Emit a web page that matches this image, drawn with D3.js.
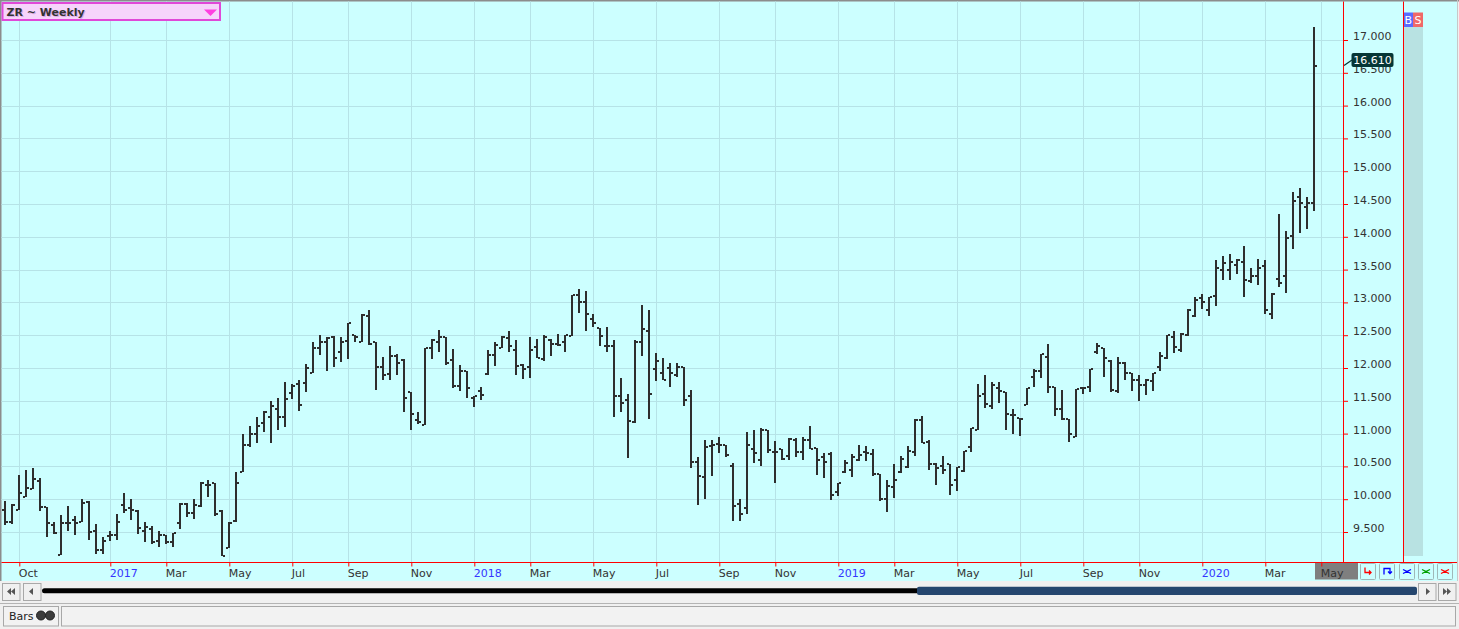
<!DOCTYPE html>
<html>
<head>
<meta charset="utf-8">
<script src="https://cdn.jsdelivr.net/npm/d3@7"></script>
<style>
  body { margin: 0; background: #f0f0f0; }
  svg { display: block; font-family: "DejaVu Sans", sans-serif; }
</style>
</head>
<body>
<script>
// weekly bars, first bar is the week ending Fri 23 Sep 2016
const firstWeek = new Date(2016, 8, 23)

const opens = [
  9.83, 9.66, 9.84, 10.03, 10.16, 10.27, 9.88, 9.61, 9.15, 9.64,
  9.68, 9.66, 9.95, 9.52, 9.23, 9.44, 9.46, 9.91, 9.87, 9.82,
  9.51, 9.54, 9.36, 9.45, 9.35, 9.64, 9.93, 9.79, 9.89, 10.22,
  10.24, 9.82, 9.26, 9.67, 10.42, 10.83, 10.99, 11.16, 11.26, 11.38,
  11.26, 11.62, 11.76, 11.77, 11.93, 12.30, 12.40, 12.48, 12.24, 12.41,
  12.50, 12.40, 12.80, 12.39, 12.01, 11.91, 12.19, 12.12, 11.64, 11.20,
  11.13, 12.30, 12.40, 12.48, 12.12, 11.72, 11.96, 11.54, 11.65, 11.91,
  12.20, 12.30, 12.46, 12.28, 12.05, 12.01, 12.32, 12.14, 12.43, 12.37,
  12.39, 12.49, 13.11, 13.01, 12.75, 12.61, 12.33, 12.34, 11.57, 11.51,
  11.18, 12.40, 12.57, 11.99, 11.93, 12.00, 11.90, 12.02, 11.58, 10.56,
  10.34, 10.81, 10.84, 10.83, 10.51, 9.93, 9.86, 10.77, 10.60, 11.05,
  10.72, 10.77, 10.66, 10.91, 10.72, 10.90, 10.78, 10.64, 10.69, 10.11,
  10.41, 10.45, 10.60, 10.72, 10.69, 10.38, 10.00, 10.18, 10.41, 10.49,
  10.72, 11.20, 10.87, 10.54, 10.50, 10.54, 10.30, 10.43, 10.79, 11.06,
  11.60, 11.42, 11.70, 11.64, 11.29, 11.24, 11.44, 11.86, 11.95, 12.17,
  11.71, 11.38, 11.23, 10.95, 11.70, 11.71, 12.24, 12.31, 12.10, 11.65,
  12.08, 11.93, 11.81, 11.74, 11.80, 12.01, 12.15, 12.48, 12.27, 12.50,
  12.79, 13.07, 12.88, 13.10, 13.49, 13.49, 13.57, 13.61, 13.32, 13.40,
  13.56, 12.82, 13.36, 13.40, 14.01, 14.61, 14.46, 14.51
]
const highs = [
  9.97, 9.93, 10.37, 10.45, 10.48, 10.33, 9.88, 9.66, 9.76, 9.89,
  9.74, 10.00, 9.97, 9.62, 9.42, 9.51, 9.77, 10.09, 10.00, 9.83,
  9.65, 9.59, 9.51, 9.46, 9.49, 9.94, 9.94, 10.00, 10.26, 10.30,
  10.25, 9.83, 9.65, 10.42, 10.99, 11.12, 11.26, 11.34, 11.50, 11.54,
  11.78, 11.75, 11.81, 12.06, 12.40, 12.50, 12.48, 12.49, 12.47, 12.68,
  12.51, 12.82, 12.89, 12.40, 12.17, 12.34, 12.21, 12.13, 11.64, 11.33,
  12.30, 12.44, 12.58, 12.48, 12.29, 12.05, 11.96, 11.57, 11.71, 12.28,
  12.39, 12.49, 12.57, 12.43, 12.06, 12.47, 12.44, 12.51, 12.44, 12.52,
  12.51, 13.12, 13.21, 13.17, 12.82, 12.61, 12.62, 12.43, 11.85, 11.60,
  12.43, 12.96, 12.88, 12.23, 12.15, 12.08, 12.08, 12.02, 11.66, 10.65,
  10.91, 10.91, 10.95, 10.83, 10.55, 10.01, 11.03, 11.05, 11.09, 11.06,
  10.89, 10.77, 10.93, 10.93, 10.95, 11.12, 10.78, 10.70, 10.72, 10.25,
  10.60, 10.69, 10.83, 10.81, 10.77, 10.39, 10.30, 10.53, 10.66, 10.81,
  11.23, 11.27, 10.91, 10.55, 10.66, 10.54, 10.49, 10.74, 11.09, 11.75,
  11.90, 11.79, 11.79, 11.64, 11.37, 11.24, 11.70, 11.98, 12.22, 12.36,
  11.71, 11.66, 11.23, 11.68, 11.71, 11.99, 12.38, 12.31, 12.12, 12.17,
  12.09, 11.93, 11.90, 11.83, 11.92, 12.24, 12.51, 12.56, 12.53, 12.90,
  13.08, 13.13, 13.08, 13.64, 13.71, 13.74, 13.66, 13.86, 13.52, 13.66,
  13.64, 13.14, 14.35, 14.09, 14.69, 14.74, 14.61, 17.20
]
const lows = [
  9.60, 9.62, 9.84, 10.03, 10.16, 9.82, 9.42, 9.47, 9.15, 9.52,
  9.46, 9.66, 9.38, 9.16, 9.16, 9.37, 9.38, 9.79, 9.69, 9.47,
  9.35, 9.31, 9.27, 9.31, 9.27, 9.55, 9.73, 9.70, 9.88, 10.04,
  9.75, 9.14, 9.26, 9.65, 10.42, 10.80, 10.86, 11.02, 10.86, 11.05,
  11.10, 11.52, 11.34, 11.63, 11.92, 12.20, 11.96, 12.01, 12.09, 12.13,
  12.40, 12.39, 12.35, 11.66, 11.81, 11.81, 11.90, 11.33, 11.06, 11.15,
  11.13, 12.14, 12.25, 12.04, 11.70, 11.65, 11.54, 11.40, 11.51, 11.89,
  12.03, 12.30, 12.25, 11.89, 11.83, 11.85, 12.15, 12.10, 12.19, 12.33,
  12.24, 12.49, 12.84, 12.57, 12.62, 12.33, 12.24, 11.26, 11.33, 10.63,
  11.16, 12.19, 11.22, 11.80, 11.82, 11.71, 11.87, 11.42, 10.48, 9.91,
  10.00, 10.35, 10.71, 10.65, 9.67, 9.67, 9.78, 10.55, 10.50, 10.71,
  10.25, 10.60, 10.60, 10.65, 10.59, 10.76, 10.37, 10.33, 9.99, 10.05,
  10.40, 10.34, 10.58, 10.58, 10.35, 9.97, 9.81, 10.02, 10.40, 10.48,
  10.66, 10.85, 10.44, 10.21, 10.39, 10.06, 10.12, 10.42, 10.72, 11.05,
  11.39, 11.38, 11.47, 11.06, 11.00, 10.96, 11.44, 11.71, 11.85, 11.62,
  11.27, 11.21, 10.87, 10.95, 11.61, 11.63, 12.21, 11.87, 11.64, 11.62,
  11.82, 11.65, 11.50, 11.59, 11.65, 11.95, 12.14, 12.23, 12.25, 12.49,
  12.78, 12.90, 12.80, 12.95, 13.34, 13.34, 13.43, 13.08, 13.29, 13.26,
  12.83, 12.75, 13.23, 13.15, 13.81, 14.06, 14.12, 14.39
]
const closes = [
  9.66, 9.91, 10.10, 10.17, 10.31, 9.88, 9.64, 9.49, 9.64, 9.64,
  9.64, 9.94, 9.50, 9.23, 9.37, 9.46, 9.66, 9.84, 9.83, 9.56,
  9.57, 9.35, 9.45, 9.35, 9.48, 9.93, 9.79, 9.91, 10.25, 10.21,
  9.78, 9.14, 9.64, 10.24, 10.83, 10.99, 11.12, 11.33, 11.42, 11.26,
  11.52, 11.73, 11.44, 12.00, 12.30, 12.40, 12.45, 12.15, 12.40, 12.68,
  12.47, 12.81, 12.37, 12.01, 11.90, 12.19, 12.08, 11.55, 11.30, 11.18,
  12.30, 12.43, 12.48, 12.08, 11.72, 11.96, 11.69, 11.57, 11.59, 12.20,
  12.35, 12.47, 12.33, 12.03, 11.99, 12.27, 12.15, 12.47, 12.37, 12.35,
  12.50, 13.11, 13.00, 12.82, 12.69, 12.49, 12.33, 11.57, 11.46, 11.19,
  12.39, 12.60, 11.61, 12.11, 11.82, 11.93, 12.02, 11.51, 10.56, 10.36,
  10.79, 10.83, 10.83, 10.67, 9.89, 9.78, 10.83, 10.70, 11.06, 10.75,
  10.72, 10.62, 10.92, 10.72, 10.91, 10.77, 10.59, 10.56, 10.06, 10.25,
  10.55, 10.64, 10.67, 10.71, 10.39, 10.01, 10.20, 10.30, 10.62, 10.73,
  11.21, 10.85, 10.54, 10.48, 10.45, 10.21, 10.49, 10.73, 11.09, 11.57,
  11.45, 11.74, 11.65, 11.30, 11.28, 11.22, 11.70, 11.95, 12.21, 11.71,
  11.38, 11.23, 10.99, 11.68, 11.70, 11.99, 12.33, 12.16, 11.67, 12.08,
  11.93, 11.81, 11.74, 11.82, 11.92, 12.19, 12.50, 12.32, 12.52, 12.89,
  13.03, 13.00, 13.08, 13.52, 13.60, 13.61, 13.64, 13.34, 13.41, 13.52,
  12.89, 13.13, 13.29, 13.98, 14.54, 14.52, 14.51, 16.61
]

const tickMonths = [
  "2016-10", "2017-01", "2017-03", "2017-05", "2017-07", "2017-09", "2017-11",
  "2018-01", "2018-03", "2018-05", "2018-07", "2018-09", "2018-11",
  "2019-01", "2019-03", "2019-05", "2019-07", "2019-09", "2019-11",
  "2020-01", "2020-03", "2020-05"
]
const tickLabels = [
  "Oct", "2017", "Mar", "May", "Jul", "Sep", "Nov",
  "2018", "Mar", "May", "Jul", "Sep", "Nov",
  "2019", "Mar", "May", "Jul", "Sep", "Nov",
  "2020", "Mar", "May"
]
const priceTicks = d3.range(9.5, 17.01, 0.5)
const lastPrice = 16.61

const W = 1459, H = 629
const plotRight = 1343, axisY = 562.5

const svg = d3.select("body").append("svg")
  .attr("width", W)
  .attr("height", H)

const dates = opens.map((d, i) => d3.timeWeek.offset(firstWeek, i))
const tickDates = tickMonths.map(s => {
  const [yy, mm] = s.split("-").map(Number)
  return d3.timeFriday.ceil(new Date(yy, mm - 1, 1))
})

const x = d3.scaleTime()
  .domain([firstWeek, d3.timeWeek.offset(firstWeek, 188)])
  .range([5.3, 1321.3])
const y = d3.scaleLinear().domain([9.5, 17]).range([532, 40])

// panel background
svg.append("rect").attr("x", 0).attr("y", 0).attr("width", 1457).attr("height", 581).attr("fill", "#ccffff")
svg.append("rect").attr("x", 0).attr("y", 0).attr("width", W).attr("height", 1.5).attr("fill", "#8c8c8c")
svg.append("rect").attr("x", 0).attr("y", 0).attr("width", 1.5).attr("height", 581).attr("fill", "#8c8c8c")
svg.append("line").attr("x1", 1457.5).attr("x2", 1457.5).attr("y1", 0).attr("y2", 581).attr("stroke", "#c8c8c8")

// grid
const grid = svg.append("g").attr("stroke", "#b6e3e7").attr("stroke-width", 1)
grid.selectAll("line.h").data(priceTicks).join("line")
  .attr("class", "h")
  .attr("x1", 1.5).attr("x2", plotRight)
  .attr("y1", d => Math.round(y(d)) + 0.5).attr("y2", d => Math.round(y(d)) + 0.5)
grid.selectAll("line.v").data(tickDates).join("line")
  .attr("class", "v")
  .attr("x1", d => Math.round(x(d)) + 0.5).attr("x2", d => Math.round(x(d)) + 0.5)
  .attr("y1", 1.5).attr("y2", axisY)

// OHLC bars
const barColor = "#2e2e2e"
const bars = svg.append("g").attr("fill", barColor)
const bar = bars.selectAll("g").data(dates).join("g")
bar.append("rect")
  .attr("x", d => Math.round(x(d)) - 1)
  .attr("y", (d, i) => Math.round(y(highs[i])))
  .attr("width", 2)
  .attr("height", (d, i) => Math.max(2, Math.round(y(lows[i])) - Math.round(y(highs[i]))))
bar.append("rect")
  .attr("x", d => Math.round(x(d)) - 3)
  .attr("y", (d, i) => Math.round(y(opens[i])) - 1)
  .attr("width", 2).attr("height", 2)
bar.append("rect")
  .attr("x", d => Math.round(x(d)) + 1)
  .attr("y", (d, i) => Math.round(y(closes[i])) - 1)
  .attr("width", 2).attr("height", 2)

// right side strip, B / S
svg.append("rect").attr("x", 1404).attr("y", 27).attr("width", 19).attr("height", 529).attr("fill", "#b8e2e2")
svg.append("rect").attr("x", 1403.5).attr("y", 12.5).attr("width", 9.5).attr("height", 14.5).attr("fill", "#5a6bff")
svg.append("rect").attr("x", 1413).attr("y", 12.5).attr("width", 10).attr("height", 14.5).attr("fill", "#f06868")
svg.append("text").attr("x", 1408.2).attr("y", 24).attr("text-anchor", "middle").attr("fill", "#fff").attr("font-size", 11).text("B")
svg.append("text").attr("x", 1418).attr("y", 24).attr("text-anchor", "middle").attr("fill", "#fff").attr("font-size", 11).text("S")

// red frame lines
const red = "#ff0000"
svg.append("line").attr("x1", plotRight + 0.5).attr("x2", plotRight + 0.5).attr("y1", 1.5).attr("y2", axisY).attr("stroke", red)
svg.append("line").attr("x1", 1403.5).attr("x2", 1403.5).attr("y1", 1.5).attr("y2", axisY).attr("stroke", red)

// price axis
const yAxis = d3.axisRight(y)
  .tickValues(priceTicks)
  .tickFormat(d3.format(".3f"))
  .tickSize(5)
  .tickPadding(5)
const ya = svg.append("g")
  .attr("transform", `translate(${plotRight},0)`)
  .call(yAxis)
ya.attr("font-family", null).attr("font-size", 11)
ya.select(".domain").remove()
ya.selectAll(".tick line").attr("stroke", red)
ya.selectAll(".tick text").attr("dy", "-0.05em").attr("fill", "#333")

// last price flag
const lp = y(lastPrice)
svg.append("line").attr("x1", plotRight + 1).attr("y1", lp).attr("x2", 1352).attr("y2", 60)
  .attr("stroke", "#063636").attr("stroke-width", 1.2)
svg.append("rect").attr("x", 1351.5).attr("y", 53).attr("width", 42).attr("height", 14).attr("rx", 2)
  .attr("fill", "#063636")
svg.append("text").attr("x", 1372.5).attr("y", 64.3).attr("text-anchor", "middle")
  .attr("fill", "#ffffff").attr("font-size", 11).text(d3.format(".3f")(lastPrice))

// time axis
svg.append("rect").attr("x", 1315).attr("y", axisY).attr("width", 43).attr("height", 17).attr("fill", "#7f7f7f")
const xAxis = d3.axisBottom(x)
  .tickValues(tickDates)
  .tickFormat((d, i) => tickLabels[i])
  .tickSize(4)
const xa = svg.append("g")
  .attr("transform", `translate(0,${axisY})`)
  .call(xAxis)
xa.attr("font-family", null).attr("font-size", 11)
xa.select(".domain").remove()
xa.selectAll(".tick line").attr("stroke", red)
xa.selectAll(".tick text")
  .attr("text-anchor", "start")
  .attr("x", -1)
  .attr("y", 14.8)
  .attr("dy", 0)
  .attr("fill", (d, i) => /^\d/.test(tickLabels[i]) ? "#3535ff" : "#333")
svg.append("line").attr("x1", 1.5).attr("x2", 1457).attr("y1", axisY).attr("y2", axisY).attr("stroke", red)

// small tool buttons next to the time axis
const toolX = [1360, 1379, 1399, 1418, 1437]
const toolColor = ["#ff0000", "#0000ff", "#0000ff", "#00a000", "#ff0000"]
const tools = svg.append("g")
toolX.forEach((tx, i) => {
  tools.append("rect").attr("x", tx + 0.5).attr("y", 563.5).attr("width", 15).attr("height", 16).attr("rx", 1)
    .attr("fill", "none").attr("stroke", "#9fb8b8")
  const cx = tx + 8, cy = 571.5
  let p
  if (i === 0) p = `M${cx - 3},${cy - 4}V${cy + 1}H${cx + 3}M${cx + 1},${cy - 1}L${cx + 3},${cy + 1}L${cx + 1},${cy + 3}`
  else if (i === 1) p = `M${cx - 3},${cy + 3}V${cy - 3}H${cx + 3}V${cy + 2}M${cx + 1},${cy}L${cx + 3},${cy + 2}L${cx + 5},${cy}`
  else p = `M${cx - 4},${cy - 2}L${cx},${cy}L${cx - 4},${cy + 2}M${cx + 4},${cy - 2}L${cx},${cy}L${cx + 4},${cy + 2}`
  tools.append("path").attr("d", p).attr("fill", "none").attr("stroke", toolColor[i]).attr("stroke-width", 1.3)
})

// scroll bar
const btnFill = "#f0f0f0", btnStroke = "#a8a8a8", iconCol = "#555"
const scrollBtns = [
  { x: 2.5, d: "M11,588 L7,591.5 L11,595 Z M15,588 L11,591.5 L15,595 Z" },
  { x: 23.5, d: "M33,588 L29,591.5 L33,595 Z" },
  { x: 1418.5, d: "M1426,588 L1430,591.5 L1426,595 Z" },
  { x: 1438.5, d: "M1443,588 L1447,591.5 L1443,595 Z M1447,588 L1451,591.5 L1447,595 Z" }
]
scrollBtns.forEach(b => {
  svg.append("rect").attr("x", b.x).attr("y", 583.5).attr("width", 17.5).attr("height", 17)
    .attr("fill", btnFill).attr("stroke", btnStroke)
  svg.append("path").attr("d", b.d).attr("fill", iconCol)
})
svg.append("rect").attr("x", 42).attr("y", 588.3).attr("width", 878).attr("height", 5).attr("rx", 2.5).attr("fill", "#000")
svg.append("rect").attr("x", 917).attr("y", 586.7).attr("width", 500).attr("height", 8.3).attr("rx", 2).attr("fill", "#25466e")

// status row
svg.append("line").attr("x1", 0).attr("x2", W).attr("y1", 603.5).attr("y2", 603.5).attr("stroke", "#b4b4b4")
svg.append("rect").attr("x", 3.5).attr("y", 606.5).attr("width", 55).attr("height", 19.5)
  .attr("fill", "#f2f2f2").attr("stroke", "#a8a8a8")
svg.append("rect").attr("x", 61.5).attr("y", 606.5).attr("width", 1394).attr("height", 19.5)
  .attr("fill", "#f2f2f2").attr("stroke", "#a8a8a8")
svg.append("text").attr("x", 9).attr("y", 620).attr("font-size", 11).attr("fill", "#222").text("Bars")
svg.append("circle").attr("cx", 41).attr("cy", 615.5).attr("r", 4.5).attr("fill", "#3c3c3c").attr("stroke", "#222")
svg.append("circle").attr("cx", 50).attr("cy", 615.5).attr("r", 4.5).attr("fill", "#3c3c3c").attr("stroke", "#222")

// symbol box top left
svg.append("rect").attr("x", 2.5).attr("y", 3).attr("width", 217.5).attr("height", 17)
  .attr("fill", "#f6d4fb").attr("stroke", "#e048d8").attr("stroke-width", 2)
svg.append("text").attr("x", 7.5).attr("y", 16.5).attr("font-size", 11).attr("font-weight", "bold")
  .attr("fill", "#d9a9e6").text("ZR ~ Weekly")
svg.append("text").attr("x", 6.5).attr("y", 16).attr("font-size", 11).attr("font-weight", "bold")
  .attr("fill", "#333").text("ZR ~ Weekly")
svg.append("path").attr("d", "M204,9.5 L217,9.5 L210.5,16 Z").attr("fill", "#ff3fe0")
</script>
</body>
</html>
